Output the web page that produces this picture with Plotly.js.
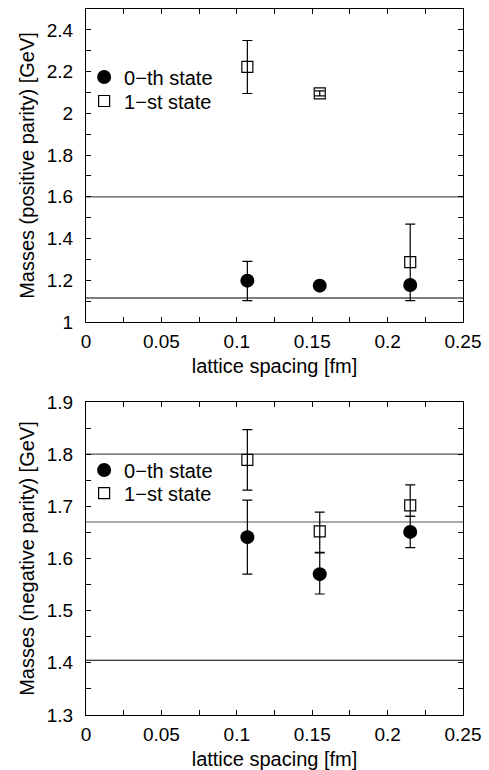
<!DOCTYPE html>
<html>
<head>
<meta charset="utf-8">
<script src="https://cdn.plot.ly/plotly-3.0.1.min.js"></script>
<style>html,body{margin:0;padding:0;background:#fff;}#chart{width:489px;height:770px;}</style>
</head>
<body>
<div id="chart"></div>
<script>
// lattice spacings [fm]
const spacing = [0.107, 0.155, 0.215];

// positive parity
const posState0 = [1.198, 1.174, 1.177];
const posState0ErrPlus = [0.092, 0.012, 0.012];
const posState0ErrMinus = [0.096, 0.012, 0.012];
const posState1 = [2.223, 2.096, 1.287];
const posState1ErrPlus = [0.126, 0.012, 0.182];
const posState1ErrMinus = [0.128, 0.012, 0.185];
const posRefBlack = [1.115];
const posRefGray = [1.6];

// negative parity
const negState0 = [1.641, 1.570, 1.651];
const negState0ErrPlus = [0.071, 0.042, 0.030];
const negState0ErrMinus = [0.071, 0.038, 0.030];
const negState1 = [1.789, 1.652, 1.702];
const negState1ErrPlus = [0.058, 0.037, 0.039];
const negState1ErrMinus = [0.058, 0.041, 0.021];
const negRefBlack = [1.405];
const negRefGray = [1.8, 1.67];

const labels = ['0\u2212th state', '1\u2212st state'];

const FONT = 'Liberation Sans, Arial, Helvetica, sans-serif';

function errObj(p, m) {
  return {type: 'data', symmetric: false, array: p, arrayminus: m, color: '#000', thickness: 1.2, width: 5};
}
const circleMarker = {symbol: 'circle', size: 14, color: '#000'};
const squareMarker = {symbol: 'square-open', size: 11, color: '#000', line: {width: 1.2, color: '#000'}};

const traces = [
  {x: spacing, y: posState0, mode: 'markers', name: labels[0], marker: circleMarker,
   error_y: errObj(posState0ErrPlus, posState0ErrMinus), xaxis: 'x', yaxis: 'y', legend: 'legend'},
  {x: spacing, y: posState1, mode: 'markers', name: labels[1], marker: squareMarker,
   error_y: errObj(posState1ErrPlus, posState1ErrMinus), xaxis: 'x', yaxis: 'y', legend: 'legend2'},
  {x: spacing, y: negState0, mode: 'markers', name: labels[0], marker: circleMarker,
   error_y: errObj(negState0ErrPlus, negState0ErrMinus), xaxis: 'x2', yaxis: 'y2', legend: 'legend3'},
  {x: spacing, y: negState1, mode: 'markers', name: labels[1], marker: squareMarker,
   error_y: errObj(negState1ErrPlus, negState1ErrMinus), xaxis: 'x2', yaxis: 'y2', legend: 'legend4'}
];

function hline(y, yref, color) {
  return {type: 'line', xref: 'paper', x0: 0, x1: 1, yref: yref, y0: y, y1: y,
          line: {color: color, width: 1.2}, layer: 'below'};
}
const shapes = [];
posRefBlack.forEach(v => shapes.push(hline(v, 'y', '#000')));
posRefGray.forEach(v => shapes.push(hline(v, 'y', '#555')));
negRefBlack.forEach(v => shapes.push(hline(v, 'y2', '#000')));
negRefGray.forEach(v => shapes.push(hline(v, 'y2', '#555')));

function xAxis(anchor) {
  return {
    anchor: anchor, range: [0, 0.25], dtick: 0.05, tick0: 0,
    ticks: 'inside', ticklen: 5, tickwidth: 1, tickcolor: '#000',
    minor: {dtick: 0.025, ticks: 'inside', ticklen: 5, tickwidth: 1, tickcolor: '#000'},
    showline: true, linecolor: '#000', linewidth: 1, mirror: 'ticks',
    showgrid: false, zeroline: false, ticklabelstandoff: 2,
    tickfont: {family: FONT, size: 19, color: '#000'},
    title: {text: 'lattice spacing [fm]', font: {family: FONT, size: 20, color: '#000'}, standoff: 8}
  };
}
function yAxis(anchor, domain, range, dtick, minor, title) {
  return {
    anchor: anchor, domain: domain, range: range, dtick: dtick, tick0: range[0],
    ticks: 'inside', ticklen: 5, tickwidth: 1, tickcolor: '#000',
    minor: {dtick: minor, ticks: 'inside', ticklen: 5, tickwidth: 1, tickcolor: '#000'},
    showline: true, linecolor: '#000', linewidth: 1, mirror: 'ticks',
    showgrid: false, zeroline: false, ticklabelstandoff: 8,
    tickfont: {family: FONT, size: 19, color: '#000'},
    title: {text: title, font: {family: FONT, size: 20, color: '#000'}, standoff: 6}
  };
}

const legendBase = {
  xref: 'paper', yref: 'paper', xanchor: 'left', yanchor: 'middle',
  bgcolor: 'rgba(0,0,0,0)', borderwidth: 0,
  font: {family: FONT, size: 20, color: '#000'},
  tracegroupgap: 0, itemwidth: 30, x: -0.005
};

const layout = {
  width: 489, height: 770,
  margin: {l: 86, r: 26, t: 9, b: 55},
  paper_bgcolor: '#fff', plot_bgcolor: '#fff',
  showlegend: true,
  xaxis: xAxis('y'),
  yaxis: yAxis('x', [0.5567, 1], [1, 2.5], 0.2, 0.1, 'Masses (positive parity) [GeV]'),
  xaxis2: xAxis('y2'),
  yaxis2: yAxis('x2', [0, 0.4433], [1.3, 1.9], 0.1, 0.05, 'Masses (negative parity) [GeV]'),
  legend: Object.assign({}, legendBase, {y: 0.9037}),
  legend2: Object.assign({}, legendBase, {y: 0.8697}),
  legend3: Object.assign({}, legendBase, {y: 0.3470}),
  legend4: Object.assign({}, legendBase, {y: 0.3144}),
  shapes: shapes
};

Plotly.newPlot('chart', traces, layout, {staticPlot: true, displayModeBar: false});
</script>
</body>
</html>
